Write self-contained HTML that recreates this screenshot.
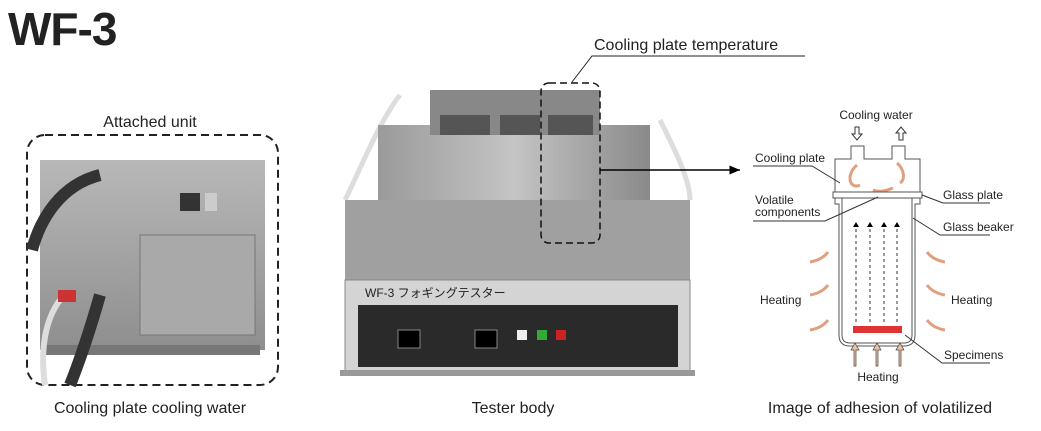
<!DOCTYPE html>
<html><head><meta charset="utf-8"><style>
body{margin:0;background:#fff;width:1041px;height:426px;overflow:hidden}
text{font-family:"Liberation Sans",sans-serif;fill:#222}
</style></head><body>
<svg width="1041" height="426" viewBox="0 0 1041 426" xmlns="http://www.w3.org/2000/svg">
<defs>
<linearGradient id="g1" x1="0" y1="0" x2="0" y2="1"><stop offset="0" stop-color="#b8b8b8"/><stop offset="1" stop-color="#8e8e8e"/></linearGradient>
<linearGradient id="g2" x1="0" y1="0" x2="1" y2="0"><stop offset="0" stop-color="#9a9a9a"/><stop offset=".5" stop-color="#c4c4c4"/><stop offset="1" stop-color="#8a8a8a"/></linearGradient>
<marker id="ah" markerWidth="8" markerHeight="8" refX="7" refY="4" orient="auto"><path d="M0,1 L7,4 L0,7z" fill="#000"/></marker>
<marker id="sa" markerWidth="6" markerHeight="6" refX="5" refY="3" orient="auto"><path d="M0,0 L5,3 L0,6z" fill="#000"/></marker>
</defs>
<text x="8" y="45" font-size="46" font-weight="bold" fill="#111" style="letter-spacing:-1px">WF-3</text>

<text x="150" y="127" font-size="16" text-anchor="middle">Attached unit</text>
<rect x="27" y="135" width="251" height="250" rx="18" fill="none" stroke="#222" stroke-width="2" stroke-dasharray="8,5"/>
<rect x="40" y="160" width="225" height="190" fill="url(#g1)"/>
<rect x="140" y="235" width="115" height="100" fill="#a9a9a9" stroke="#777"/>
<rect x="180" y="193" width="20" height="18" fill="#333"/>
<rect x="205" y="193" width="12" height="18" fill="#ccc"/>
<rect x="45" y="345" width="215" height="10" fill="#777"/>
<path d="M100,175 C60,185 40,220 32,250" stroke="#333" stroke-width="12" fill="none"/>
<path d="M100,295 C90,330 80,360 70,385" stroke="#333" stroke-width="12" fill="none"/>
<path d="M60,300 C45,320 40,350 45,385" stroke="#ddd" stroke-width="6" fill="none"/>
<rect x="58" y="290" width="18" height="12" fill="#c33"/>
<text x="150" y="413" font-size="16" text-anchor="middle">Cooling plate cooling water</text>

<path d="M400,95 C380,120 360,170 345,200 M660,120 C675,150 690,180 690,200" stroke="#ddd" stroke-width="5" fill="none"/>
<rect x="378" y="125" width="272" height="80" fill="url(#g2)"/>
<rect x="345" y="200" width="345" height="85" fill="#a0a0a0"/>
<rect x="430" y="90" width="170" height="45" fill="#888"/>
<rect x="440" y="115" width="50" height="20" fill="#555"/>
<rect x="500" y="115" width="40" height="20" fill="#555"/>
<rect x="548" y="115" width="45" height="20" fill="#555"/>
<rect x="345" y="280" width="345" height="92" fill="#d4d4d4" stroke="#888"/>
<rect x="358" y="305" width="320" height="62" fill="#2a2a2a"/>
<text x="365" y="297" font-size="12" fill="#222">WF-3 フォギングテスター</text>
<rect x="398" y="330" width="22" height="18" fill="#000" stroke="#888"/>
<rect x="475" y="330" width="22" height="18" fill="#000" stroke="#888"/>
<rect x="517" y="330" width="10" height="10" fill="#eee"/>
<rect x="537" y="330" width="10" height="10" fill="#3a3"/>
<rect x="556" y="330" width="10" height="10" fill="#c22"/>
<rect x="340" y="370" width="355" height="6" fill="#999"/>
<rect x="541" y="83" width="59" height="160" rx="8" fill="none" stroke="#111" stroke-width="1.5" stroke-dasharray="7,4"/>
<text x="594" y="50" font-size="16">Cooling plate temperature</text>
<path d="M805,56 H592 L572,82" stroke="#222" fill="none"/>
<path d="M600,170 H740" stroke="#000" stroke-width="1.5" fill="none" marker-end="url(#ah)"/>
<text x="513" y="413" font-size="16" text-anchor="middle">Tester body</text>

<text x="876" y="119" font-size="12" text-anchor="middle">Cooling water</text>
<path d="M855,127 h4 v7 h3 l-5,6 l-5,-6 h3z" fill="#fff" stroke="#333"/>
<path d="M899,140 h4 v-7 h3 l-5,-6 l-5,6 h3z" fill="#fff" stroke="#333"/>
<path d="M835,192 V159 H851 V146 H864 V159 H892 V146 H905 V159 H920 V192 Z" fill="#fff" stroke="#555"/>
<path d="M857,165 C845,175 850,190 860,185 M873,190 C880,193 888,190 893,188 M897,163 C905,170 905,180 900,183" stroke="#e0a080" stroke-width="3" fill="none"/>
<rect x="833" y="192" width="89" height="6" fill="#fff" stroke="#555"/>
<path d="M835,198 h7 V335 q0,8 8,8 h54 q8,0 8,-8 V198 h8 v6 h-5 V335 q0,11 -11,11 h-54 q-11,0 -11,-11 V204 h-4z" fill="#fff" stroke="#555"/>
<rect x="853" y="326" width="49" height="7" fill="#d33"/>
<g stroke="#333" stroke-dasharray="3,3" marker-end="url(#sa)"><path d="M856,322V222"/><path d="M870,322V222"/><path d="M884,322V222"/><path d="M897,322V222"/></g>
<g stroke="#e0a080" stroke-width="3" fill="none">
<path d="M810,262 q12,-2 18,-10"/><path d="M810,295 q12,-2 18,-10"/><path d="M810,330 q12,-2 18,-10"/>
<path d="M945,262 q-12,-2 -18,-10"/><path d="M945,295 q-12,-2 -18,-10"/><path d="M945,330 q-12,-2 -18,-10"/>
</g>
<g fill="#f0c0a0" stroke="#444" stroke-width=".7">
<path d="M854,366 V350 h-3 l4,-7 l4,7 h-3 V366z"/><path d="M876,366 V350 h-3 l4,-7 l4,7 h-3 V366z"/><path d="M899,366 V350 h-3 l4,-7 l4,7 h-3 V366z"/>
</g>
<text x="760" y="304" font-size="12">Heating</text>
<text x="951" y="304" font-size="12">Heating</text>
<text x="878" y="381" font-size="12" text-anchor="middle">Heating</text>
<text x="755" y="162" font-size="12">Cooling plate</text>
<path d="M753,166 H812 L840,183" stroke="#333" fill="none"/>
<text x="755" y="204" font-size="12">Volatile</text>
<text x="755" y="216" font-size="12">components</text>
<path d="M753,221 H825 L878,197" stroke="#333" fill="none"/>
<text x="943" y="199" font-size="12">Glass plate</text>
<path d="M990,203 H943 L922,195" stroke="#333" fill="none"/>
<text x="943" y="231" font-size="12">Glass beaker</text>
<path d="M990,235 H940 L913,218" stroke="#333" fill="none"/>
<text x="944" y="359" font-size="12">Specimens</text>
<path d="M990,363 H942 L905,335" stroke="#333" fill="none"/>
<text x="880" y="413" font-size="16" text-anchor="middle">Image of adhesion of volatilized</text>
</svg>
</body></html>
